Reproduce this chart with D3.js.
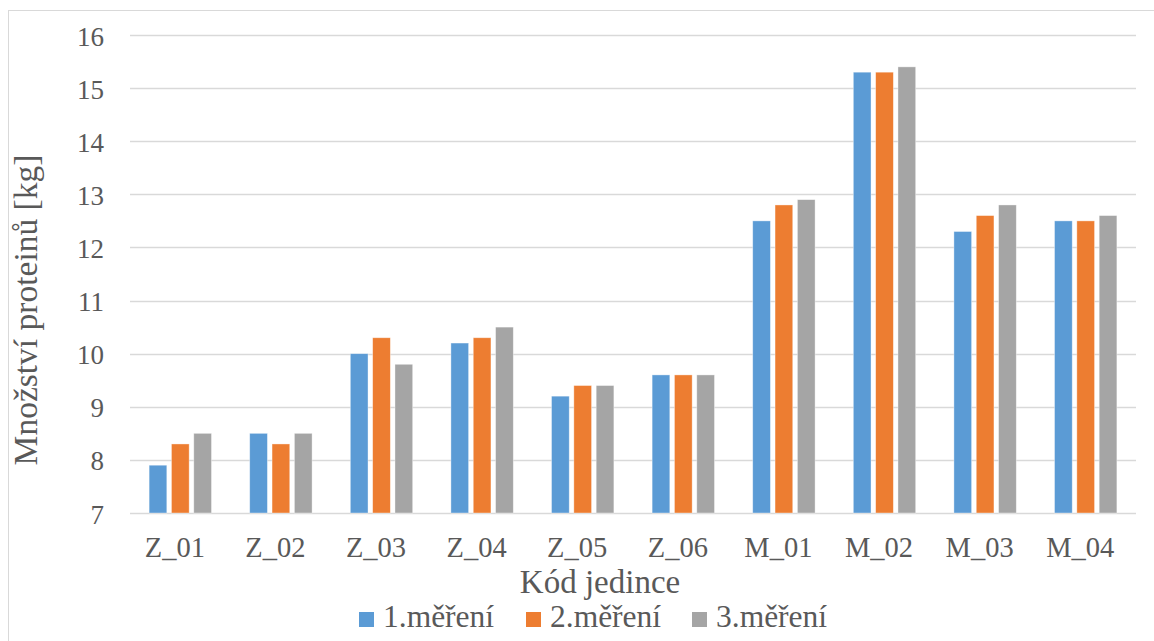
<!DOCTYPE html>
<html><head><meta charset="utf-8">
<script src="https://cdn.jsdelivr.net/npm/d3@7"></script>
</head>
<body style="margin:0;background:#fff">
<svg id="c" width="1154" height="641"></svg>
<script>
const categories = ["Z_01","Z_02","Z_03","Z_04","Z_05","Z_06","M_01","M_02","M_03","M_04"];
const seriesNames = ["1.měření","2.měření","3.měření"];
const mereni1 = [7.9, 8.5, 10.0, 10.2, 9.2, 9.6, 12.5, 15.3, 12.3, 12.5];
const mereni2 = [8.3, 8.3, 10.3, 10.3, 9.4, 9.6, 12.8, 15.3, 12.6, 12.5];
const mereni3 = [8.5, 8.5, 9.8, 10.5, 9.4, 9.6, 12.9, 15.4, 12.8, 12.6];
const yTicks = [7,8,9,10,11,12,13,14,15,16];
const colors = ["#5B9BD5","#ED7D31","#A5A5A5"];
const series = [mereni1, mereni2, mereni3];
const TXT = "#595959";
const FONT = "Liberation Serif";

const svg = d3.select("#c");
svg.append("rect").attr("x",8.5).attr("y",10.5).attr("width",1160).attr("height",650)
  .attr("fill","#fff").attr("stroke","#D9D9D9").attr("stroke-width",1);

const L=130, R=1136, T=35, B=513;
const x = d3.scaleBand().domain(categories).range([L,R]).padding(0);
const y = d3.scaleLinear().domain([7,16]).range([B,T]);

svg.append("g").selectAll("line").data(yTicks).join("line")
  .attr("x1",L).attr("x2",R).attr("y1",d=>Math.round(y(d))+0.5).attr("y2",d=>Math.round(y(d))+0.5)
  .attr("stroke","#D9D9D9").attr("stroke-width",1.5);

// y axis labels
const ya = svg.append("g").attr("transform","translate(104,0)")
  .call(d3.axisLeft(y).tickValues(yTicks).tickSize(0).tickPadding(0).tickFormat(d3.format("d")))
  .attr("font-family",FONT).attr("font-size",27);
ya.select(".domain").remove();
ya.selectAll("text").attr("fill",TXT).attr("dy","0.37em");

// bars
const bw = x.bandwidth();
const step = bw*0.222, barW = bw*0.176;
series.forEach((vals,si)=>{
  svg.append("g").selectAll("rect").data(vals).join("rect")
    .attr("x",(d,i)=> x(categories[i]) + bw/2 - (step*2 + barW)/2 + step*si)
    .attr("width",barW)
    .attr("y",d=>y(d)).attr("height",d=>y(7)-y(d))
    .attr("fill",colors[si]).attr("stroke","#fff").attr("stroke-width",0.75).attr("stroke-opacity",0.5);
});

// x axis labels
const xa = svg.append("g").attr("transform",`translate(-5.5,${557})`)
  .call(d3.axisBottom(x).tickSize(0).tickPadding(0))
  .attr("font-family",FONT).attr("font-size",28.5);
xa.select(".domain").remove();
xa.selectAll("text").attr("fill",TXT).attr("dy",0);

// axis titles
svg.append("text").attr("x",600).attr("y",593).attr("text-anchor","middle")
  .attr("font-family",FONT).attr("font-size",33).attr("fill",TXT).text("Kód jedince");
svg.append("text").attr("transform","translate(37,310) rotate(-90)").attr("text-anchor","middle")
  .attr("font-family",FONT).attr("font-size",33.5).attr("fill",TXT).text("Množství proteinů [kg]");

// legend
const legX = [359, 526, 692];
seriesNames.forEach((n,i)=>{
  svg.append("rect").attr("x",legX[i]).attr("y",612).attr("width",15).attr("height",15).attr("fill",colors[i]);
  svg.append("text").attr("x",legX[i]+24).attr("y",627).attr("font-family",FONT).attr("font-size",31.5)
    .attr("fill",TXT).text(n);
});
</script></body></html>
